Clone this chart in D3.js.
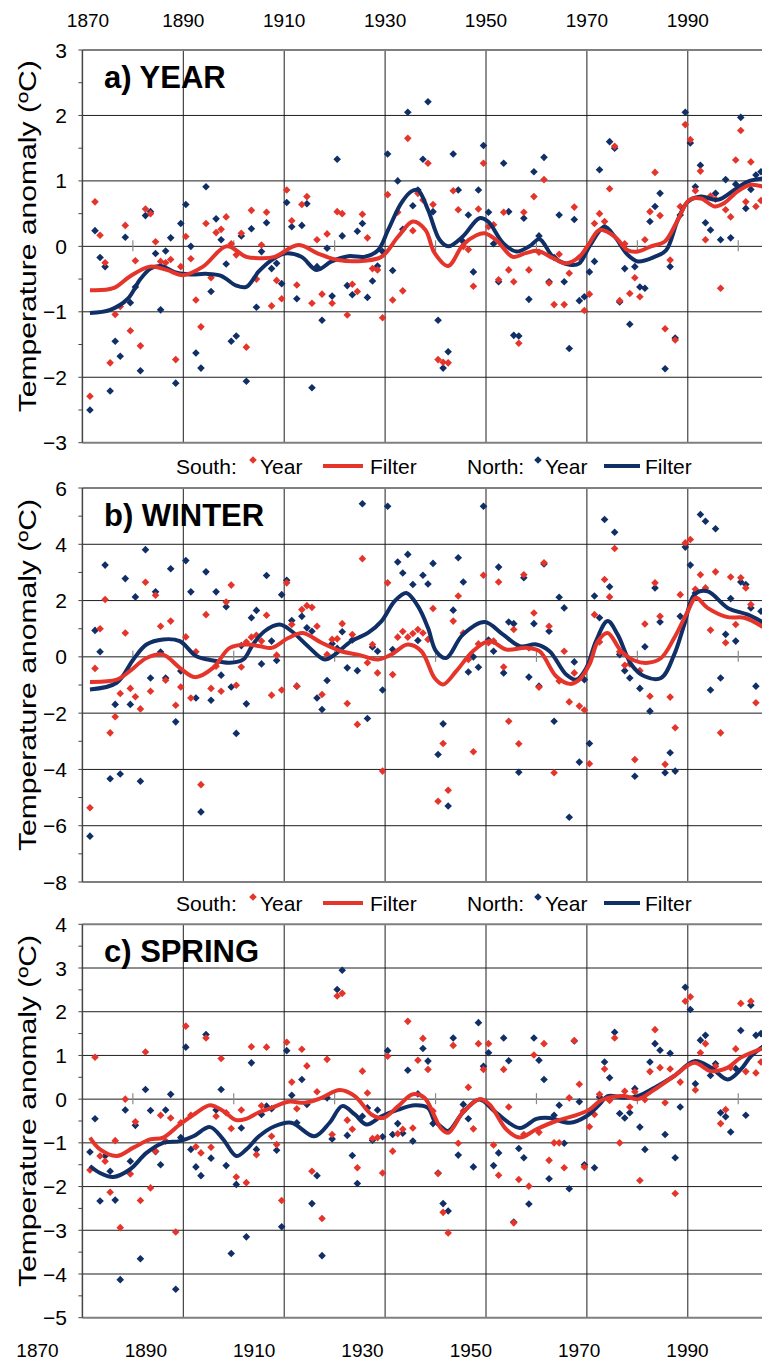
<!DOCTYPE html>
<html>
<head>
<meta charset="utf-8">
<script src="https://cdn.jsdelivr.net/npm/d3@7/dist/d3.min.js"></script>
<style>
  html, body { margin: 0; padding: 0; background: #fff; }
  svg { display: block; font-family: "Liberation Sans", Arial, sans-serif; }
</style>
</head>
<body>
<svg id="chart" width="762" height="1364"></svg>
<script>
// ---- data: temperature anomalies (ºC), one value per year 1871-2004 ----
const firstYear = 1871;
const lastYear = 2004;

const yearSouth = [-2.29,0.68,0.17,-0.25,-1.78,-1.04,-0.92,0.32,-1.29,-0.22,-1.52,0.57,0.5,0.07,-0.23,-0.25,-0.2,-1.73,-0.31,0.15,
  -0.19,-0.82,-1.23,0.35,-0.48,0.21,0.26,0.45,0.04,-0.13,0.2,-1.54,0.55,-0.5,0.02,0.52,-0.91,-0.52,-0.8,0.86,
  0.39,-0.59,0.64,0.76,-0.87,0.1,-0.73,0.19,-0.87,0.53,0.5,-1.05,-0.58,-0.69,0.49,0.13,-0.34,-0.36,-1.09,0.79,
  -0.82,0.52,-0.68,1.65,0.24,0.81,0.71,1.27,0.64,-1.73,-1.77,-1.78,0.85,0.56,0.0,-0.05,-0.61,0.57,1.27,0.3,
  0.33,-0.51,0.52,-0.36,-0.54,-1.48,0.52,-0.36,0.76,-0.09,1.02,-0.56,-0.89,-0.12,-0.89,-0.41,0.6,-0.17,-0.98,-0.73,
  0.35,0.5,0.38,0.88,1.53,-0.83,0.04,-0.72,-0.48,-0.77,0.1,0.53,1.13,0.47,-1.26,-0.21,-1.43,0.61,1.86,1.63,
  0.85,1.15,0.1,0.77,0.72,-0.64,0.56,0.45,1.32,1.77,0.68,1.29,0.61,0.7];
const yearNorth = [-2.5,0.24,-0.17,-0.31,-2.21,-1.45,-1.68,0.14,-0.86,-0.62,-1.9,0.47,0.53,-0.11,-0.97,-0.07,0.13,-2.09,0.35,0.64,
  0.0,-1.63,-1.86,0.91,-0.69,0.42,0.1,-0.27,-1.45,-1.37,0.16,-2.06,0.27,-0.93,-0.08,0.36,-0.34,-0.26,-0.57,0.67,
  0.3,-0.8,0.32,0.65,-2.16,-0.31,-1.13,-0.03,-0.76,1.33,0.16,-0.6,-0.74,0.23,0.35,-0.78,-0.53,-0.3,-0.08,1.41,
  -0.37,1.0,0.26,2.05,0.62,0.86,1.33,2.21,0.53,-1.13,-1.86,-1.61,1.41,0.86,0.07,0.48,-0.39,0.86,1.54,0.52,
  0.04,-0.54,1.27,0.53,-1.36,-1.37,0.43,-0.81,1.14,0.16,1.36,-0.54,-0.17,0.48,-0.54,-1.56,0.41,-0.83,-0.77,-0.39,
  -0.23,1.17,0.29,1.6,1.5,-0.85,-0.34,-1.19,-0.31,-0.62,-0.64,0.38,0.61,0.81,-1.87,-0.31,-1.4,0.48,2.05,1.58,
  0.91,1.24,0.36,0.25,0.81,0.1,1.02,0.13,0.95,1.97,0.58,0.87,1.09,1.14];

const winterSouth = [-5.36,-0.41,1.0,2.04,-2.7,-2.13,-1.3,0.85,-1.12,-1.42,-1.85,2.65,-1.22,2.19,1.09,-0.83,1.27,-1.72,-1.07,0.71,
  -1.46,0.18,-4.54,1.5,-1.12,-0.33,-1.22,1.95,2.55,-1.01,-0.36,0.53,0.7,0.77,0.56,1.48,-1.36,0.06,-1.18,2.63,
  1.15,-1.04,1.68,1.82,1.76,1.09,-1.34,0.08,0.62,0.64,1.18,-1.66,0.79,-2.4,3.49,-0.21,0.44,-0.57,-4.06,2.63,
  -0.63,0.7,0.9,0.7,0.83,0.97,0.85,0.62,1.72,-5.13,-3.08,-4.74,1.27,2.16,0.85,-0.09,-3.37,0.46,2.9,0.5,
  0.56,2.66,-0.36,-2.29,0.97,-3.09,2.92,0.32,1.56,-1.08,3.34,1.09,-4.12,-0.86,0.2,-1.6,-0.57,-1.75,-1.89,-3.8,
  1.5,0.53,2.75,2.13,3.85,0.18,-0.3,-0.25,-3.65,-0.49,1.17,-1.4,2.63,1.44,-3.82,-1.43,-2.52,2.21,4.05,4.17,
  2.4,2.92,2.45,0.95,3.02,-2.7,0.5,2.84,1.15,2.81,2.45,1.86,-1.63,1.15];
const winterNorth = [-6.37,0.94,0.18,3.26,-4.33,-1.69,-4.16,2.78,-1.69,2.13,-4.42,3.81,-0.75,2.31,0.17,-0.75,3.13,-2.31,-0.5,3.42,
  2.31,-1.46,-5.51,3.02,-1.54,2.31,-0.65,1.78,-1.07,-2.72,0.4,-1.67,1.39,1.65,-0.25,2.89,0.56,-0.13,2.21,2.72,
  1.29,-1.04,1.44,1.03,0.91,-1.46,-1.87,-0.84,0.47,0.3,0.89,-0.39,0.6,-0.49,5.44,-2.19,0.35,0.2,-1.18,5.35,
  0.26,3.37,2.98,3.64,2.57,0.58,2.9,2.59,3.32,-3.47,-2.38,-5.3,1.66,3.52,2.66,-0.54,0.0,-0.37,5.35,0.6,
  0.2,3.19,-0.57,1.24,1.18,-4.1,2.81,-0.72,1.18,-1.04,3.3,0.91,-2.29,2.12,1.74,-5.7,-0.18,-3.74,-0.81,-3.08,
  2.16,1.39,4.88,2.49,4.43,0.08,-0.49,-0.75,-4.24,-1.12,0.36,-1.93,2.45,1.24,-4.12,-3.41,-4.06,1.44,3.9,3.26,
  2.27,5.06,4.82,-1.18,4.55,-0.75,0.8,2.07,0.56,2.66,2.57,1.74,-1.04,1.62];

const springSouth = [-1.62,0.96,-1.3,-1.42,-2.13,-0.95,-2.94,0.0,-1.71,-0.52,-2.32,1.08,-2.03,-1.19,-0.37,-0.96,-0.43,-3.04,-0.54,1.67,
  -0.37,-1.09,-1.23,1.4,-1.1,-0.39,0.93,-0.31,-0.67,-1.78,-0.25,-1.91,1.2,-1.27,-0.15,1.19,-0.85,-1.04,-2.32,1.3,
  0.39,-0.22,1.14,0.76,-1.65,0.17,-2.73,0.91,-0.81,2.36,2.42,-0.48,-0.69,-1.57,0.64,0.14,-0.9,-0.88,-1.69,0.98,
  -1.19,-0.79,-0.69,1.78,-0.66,0.89,1.39,0.68,-0.27,-1.7,-2.59,-3.06,1.23,-1.01,-0.27,0.27,-0.68,1.27,0.68,1.27,
  -1.05,-1.74,0.68,-0.18,-2.83,-1.84,-0.81,-1.99,1.01,-0.76,1.27,-1.4,-1.0,-1.0,-1.57,0.03,1.34,0.34,-1.55,-0.63,
  -0.35,0.11,0.69,-0.03,1.4,-1.0,0.18,-0.18,0.17,-1.86,-0.01,0.63,1.59,0.72,-0.08,0.69,-2.16,0.39,2.24,2.34,
  0.21,1.06,1.27,0.68,0.75,-0.56,-0.24,0.72,1.15,2.19,0.63,2.24,0.6,0.85];
const springNorth = [-1.21,-0.45,-2.33,-1.3,-1.65,-2.31,-4.13,-0.25,-1.42,-0.6,-3.65,0.22,-0.26,-1.2,-1.5,-0.25,0.11,-4.35,-0.88,1.19,
  -1.15,-1.55,-1.75,1.48,-1.35,-0.25,0.22,-1.52,-3.53,-1.95,-0.66,-3.15,0.83,-1.15,-0.35,-0.16,-0.22,-1.17,-2.92,1.11,
  0.09,-0.54,0.45,-0.12,-2.39,-1.75,-3.58,0.03,-0.91,2.51,2.95,-0.83,-1.29,-1.93,-0.39,-0.2,-0.94,-0.25,-0.86,1.11,
  -0.81,-0.56,-0.78,0.66,-0.96,0.12,1.16,0.87,-0.56,-1.69,-2.39,-2.56,1.4,-1.28,-0.12,-0.45,-1.55,1.75,0.75,1.06,
  -1.52,-1.23,1.4,0.88,-2.81,-1.13,-1.34,-2.4,1.4,0.89,0.45,-1.82,-0.37,-0.14,-1.01,-2.05,1.33,-0.06,-1.5,-0.27,
  -1.57,0.05,0.85,0.49,1.53,-0.33,-0.43,-0.31,0.24,-0.64,-1.15,0.85,1.27,1.12,-0.81,1.05,-1.34,-0.18,2.56,2.05,
  0.35,1.35,1.46,0.54,0.81,-0.31,-0.4,-0.75,0.7,1.57,-0.37,2.15,1.46,1.5];

// ---- low-pass filter curves, [year, value] ----
const yearSouthFilter = [[1871,-0.67],[1875.6,-0.64],[1878.9,-0.46],[1882.9,-0.31],[1886.2,-0.36],[1889.5,-0.44],[1893.4,-0.31],
  [1898.1,0.0],[1902,-0.16],[1905,-0.18],[1907.6,-0.16],[1912.3,0.02],[1916.2,-0.11],[1920.2,-0.21],[1925.4,-0.22],[1928.8,-0.16],
  [1932.1,0.15],[1935,0.38],[1937.5,0.25],[1939.3,-0.1],[1942,-0.3],[1944.9,0.02],[1947.6,0.17],[1949.2,0.2],[1951.5,0.1],
  [1954.8,-0.16],[1957.5,-0.1],[1959.8,-0.07],[1962.8,-0.18],[1965.4,-0.26],[1968,-0.16],[1970,0.05],[1972,0.25],[1975,0.15],
  [1977.6,-0.06],[1979.6,-0.08],[1982.2,0.0],[1984.9,0.07],[1987.5,0.4],[1989.8,0.71],[1992.1,0.73],[1994.8,0.61],[1996.7,0.66],
  [1999.4,0.84],[2002,0.94],[2004.5,0.91]];
const yearNorthFilter = [[1871,-1.02],[1875,-0.97],[1878.5,-0.8],[1881,-0.5],[1883,-0.34],[1885,-0.3],[1888,-0.4],[1891,-0.43],
  [1894,-0.42],[1897,-0.45],[1900,-0.6],[1902,-0.62],[1904.5,-0.38],[1907,-0.21],[1909.6,-0.11],[1912.9,-0.16],[1915.9,-0.36],
  [1918.9,-0.23],[1922.2,-0.15],[1925.5,-0.16],[1928.1,-0.06],[1930.1,0.25],[1932.7,0.66],[1934.7,0.84],[1936,0.86],[1938,0.56],
  [1940.3,0.1],[1942,0.0],[1944.9,0.15],[1948.2,0.43],[1949.9,0.38],[1952.9,0.05],[1955.5,-0.08],[1958.1,0.0],[1960.1,0.11],
  [1962.8,-0.16],[1966.1,-0.28],[1968,-0.26],[1970,0.0],[1973,0.3],[1975,0.15],[1977.6,-0.13],[1979.6,-0.23],[1982.9,-0.16],
  [1985.2,-0.06],[1987.5,0.4],[1989.5,0.68],[1992.1,0.76],[1995.4,0.71],[1998.7,0.86],[2001.4,0.99],[2004.5,1.04]];

const winterSouthFilter = [[1871,-0.89],[1876.3,-0.81],[1878.9,-0.51],[1882.2,-0.04],[1885.5,0.08],[1888.8,-0.39],[1891.8,-0.72],
  [1895.4,-0.39],[1898.7,0.32],[1902,0.44],[1904.7,0.38],[1907,0.32],[1910.3,0.67],[1913.2,0.85],[1916.9,0.5],[1920.8,0.2],
  [1924.1,0.08],[1928.1,-0.09],[1930.7,0.08],[1934,0.44],[1936.7,0.2],[1939.3,-0.75],[1941,-0.98],[1943.6,-0.51],[1946.9,0.2],
  [1950.2,0.56],[1953.5,0.26],[1957.5,0.32],[1960.1,0.2],[1963.4,-0.69],[1966.1,-0.96],[1968,-0.81],[1970,-0.27],[1971.7,0.56],
  [1973.6,0.85],[1976.3,0.2],[1978.9,-0.13],[1981.6,-0.21],[1984.2,-0.04],[1986.8,0.67],[1989.5,1.62],[1991.1,2.1],[1993.4,1.74],
  [1997.4,1.41],[2000.7,1.39],[2004.5,1.05]];
const winterNorthFilter = [[1871,-1.16],[1876.3,-0.92],[1879.6,-0.09],[1882.2,0.44],[1885.5,0.62],[1888.8,0.56],[1892.1,0.02],
  [1895.4,-0.13],[1898.7,-0.21],[1901.4,-0.09],[1903.3,0.44],[1905.6,0.91],[1908.6,1.15],[1911,0.91],[1914.2,0.38],[1917.5,-0.09],
  [1919.5,0.08],[1922.8,0.56],[1926.1,0.85],[1928.8,1.27],[1931.4,1.98],[1933.7,2.27],[1936,1.8],[1938,1.03],[1939.6,0.2],
  [1941.6,-0.04],[1944.9,0.79],[1949.2,1.24],[1952.9,0.79],[1956.2,0.38],[1959.5,0.44],[1962.1,0.2],[1965.4,-0.63],[1967.4,-0.81],
  [1969.4,-0.39],[1971.3,0.56],[1973.6,1.27],[1975.6,0.79],[1978.3,-0.27],[1980.9,-0.69],[1984.2,-0.75],[1986.8,0.08],[1988.8,1.15],
  [1990.8,2.21],[1993.4,2.33],[1997.4,1.74],[2001.4,1.5],[2004.5,1.22]];

const springSouthFilter = [[1871,-0.88],[1873,-1.15],[1876.3,-1.3],[1879.6,-1.11],[1882.9,-0.92],[1885.5,-0.88],[1888.8,-0.58],
  [1892.1,-0.31],[1894.8,-0.14],[1897.4,-0.27],[1900,-0.48],[1902,-0.45],[1904.5,-0.3],[1907,-0.2],[1910.3,-0.06],[1913.6,-0.08],
  [1916.9,0.03],[1920.5,0.21],[1923.5,0.07],[1926.8,-0.35],[1929.1,-0.43],[1932.1,-0.16],[1935,0.11],[1937.3,0.03],[1939.3,-0.39],
  [1940.5,-0.66],[1942,-0.77],[1944.9,-0.31],[1948.2,0.0],[1950.2,-0.12],[1953.5,-0.69],[1956.2,-0.88],[1959.5,-0.69],[1963.4,-0.5],
  [1966.7,-0.39],[1970,-0.24],[1972,-0.05],[1973.6,0.03],[1976.9,0.07],[1979.6,0.0],[1982.9,0.22],[1986.8,0.53],[1990.8,0.83],
  [1994.1,0.64],[1997.4,0.72],[2000,0.95],[2004.5,1.17]];
const springNorthFilter = [[1871,-1.53],[1873,-1.69],[1875.6,-1.78],[1878.9,-1.61],[1882.2,-1.23],[1885.5,-1.0],[1888.8,-0.96],
  [1891.5,-0.85],[1894.8,-0.64],[1897.4,-0.92],[1900,-1.3],[1902,-1.15],[1904.5,-0.85],[1907.6,-0.62],[1910.9,-0.54],[1915.5,-0.85],
  [1918.5,-0.54],[1921,-0.16],[1923.5,-0.35],[1925.8,-0.58],[1928.8,-0.39],[1932.1,-0.24],[1935.4,-0.14],[1938,-0.2],[1939.3,-0.5],
  [1940.5,-0.62],[1942,-0.73],[1944.9,-0.31],[1948.2,-0.01],[1951.5,-0.31],[1956.2,-0.66],[1959.5,-0.45],[1962.1,-0.43],
  [1966.1,-0.54],[1969.4,-0.39],[1972,-0.12],[1973.6,0.07],[1976.9,0.03],[1979.6,0.07],[1982.9,0.26],[1986.8,0.53],[1990.8,0.87],
  [1994.1,0.72],[1997.4,0.45],[2000,0.68],[2002,0.98],[2004.5,1.21]];

// ---- axis labels ----
const xTickYears = [1870, 1890, 1910, 1930, 1950, 1970, 1990];
const xMinorYears = [1880, 1900, 1920, 1940, 1960, 1980, 2000];
const panelTitles = ["a) YEAR", "b) WINTER", "c) SPRING"];
const yAxisTitle = "Temperature anomaly (ºC)";
const legendItems = ["South:", "Year", "Filter", "North:", "Year", "Filter"];

// ---- drawing ----
const RED = "#e5352b";
const BLUE = "#102f66";
const years = d3.range(firstYear, lastYear + 1);

const svg = d3.select("#chart");
const W = 762;

// category axis: each year occupies one slot; gridlines sit on slot edges
const x = d3.scaleLinear().domain([1869.5, 2009.5]).range([82.4, 82.4 + 140 * 5.045]);
const plotLeft = x(1869.5);

const panels = [
  { title: panelTitles[0], south: yearSouth, north: yearNorth, sf: yearSouthFilter, nf: yearNorthFilter,
    domain: [-3, 3], major: 1, minor: 0.5, top: 50, bottom: 442.7 },
  { title: panelTitles[1], south: winterSouth, north: winterNorth, sf: winterSouthFilter, nf: winterNorthFilter,
    domain: [-8, 6], major: 2, minor: 1, top: 488, bottom: 882 },
  { title: panelTitles[2], south: springSouth, north: springNorth, sf: springSouthFilter, nf: springNorthFilter,
    domain: [-5, 4], major: 1, minor: 0.5, top: 924.3, bottom: 1317.7 }
];

const diamond = r => `M0,${-r}L${r},0L0,${r}L${-r},0Z`;

panels.forEach((p, i) => {
  const y = d3.scaleLinear().domain(p.domain).range([p.bottom, p.top]);
  const g = svg.append("g");

  // horizontal gridlines
  const majors = d3.range(p.domain[0], p.domain[1] + 1e-9, p.major);
  g.selectAll("line.hgrid").data(majors.slice(1, -1)).join("line")
    .attr("x1", plotLeft).attr("x2", W + 2)
    .attr("y1", d => y(d)).attr("y2", d => y(d))
    .attr("stroke", "#1e1e1e").attr("stroke-width", 1);

  // vertical gridlines at the 20-year labels
  g.selectAll("line.vgrid").data(xTickYears.slice(1)).join("line")
    .attr("x1", d => x(d - 0.5)).attr("x2", d => x(d - 0.5))
    .attr("y1", p.top).attr("y2", p.bottom)
    .attr("stroke", "#1e1e1e").attr("stroke-width", 1);

  // small ticks along the zero line
  g.selectAll("line.ztick").data(xMinorYears).join("line")
    .attr("x1", d => x(d - 0.5)).attr("x2", d => x(d - 0.5))
    .attr("y1", y(0) - 6).attr("y2", y(0) + 5)
    .attr("stroke", "#8a8a8a").attr("stroke-width", 1.2);

  // frame: top & bottom borders, left axis
  g.append("line").attr("x1", plotLeft).attr("x2", W + 2).attr("y1", p.top).attr("y2", p.top)
    .attr("stroke", "#7f7f7f").attr("stroke-width", 2);
  g.append("line").attr("x1", plotLeft).attr("x2", W + 2).attr("y1", p.bottom).attr("y2", p.bottom)
    .attr("stroke", "#7f7f7f").attr("stroke-width", 2);
  g.append("line").attr("x1", plotLeft).attr("x2", plotLeft).attr("y1", p.top).attr("y2", p.bottom)
    .attr("stroke", "#444").attr("stroke-width", 1.5);

  // left axis ticks (major and minor, outward)
  const minors = d3.range(p.domain[0], p.domain[1] + 1e-9, p.minor);
  g.selectAll("line.ytick").data(minors).join("line")
    .attr("x1", plotLeft - 4).attr("x2", plotLeft)
    .attr("y1", d => y(d)).attr("y2", d => y(d))
    .attr("stroke", "#444").attr("stroke-width", 1);

  // y tick labels
  g.selectAll("text.ylab").data(majors).join("text")
    .attr("x", 67).attr("y", d => y(d)).attr("dy", "0.36em")
    .attr("text-anchor", "end").attr("font-size", 21).attr("fill", "#000")
    .text(d => d3.format("d")(d));

  // y axis title
  const cy = (p.top + p.bottom) / 2 - 10;
  g.append("text")
    .attr("transform", `translate(36,${cy}) rotate(-90)`)
    .attr("text-anchor", "middle").attr("font-size", 23.5).attr("fill", "#000")
    .attr("textLength", 352).attr("lengthAdjust", "spacingAndGlyphs")
    .text(yAxisTitle);

  // panel title
  g.append("text").attr("x", 104).attr("y", p.top + 38)
    .attr("font-size", 31).attr("font-weight", "bold").attr("fill", "#000")
    .text(p.title);

  // yearly values
  const pts = years.map((yr, k) => ({ yr, s: p.south[k], n: p.north[k] }));
  g.selectAll("path.np").data(pts).join("path")
    .attr("d", diamond(3.8))
    .attr("transform", d => `translate(${x(d.yr)},${y(d.n)})`)
    .attr("fill", BLUE);
  g.selectAll("path.sp").data(pts).join("path")
    .attr("d", diamond(3.8))
    .attr("transform", d => `translate(${x(d.yr)},${y(d.s)})`)
    .attr("fill", RED);

  // filter curves
  const line = d3.line().x(d => x(d[0])).y(d => y(d[1])).curve(d3.curveCatmullRom.alpha(0.5));
  g.append("path").attr("d", line(p.nf)).attr("fill", "none")
    .attr("stroke", BLUE).attr("stroke-width", 4).attr("stroke-linejoin", "round");
  g.append("path").attr("d", line(p.sf)).attr("fill", "none")
    .attr("stroke", RED).attr("stroke-width", 4).attr("stroke-linejoin", "round");
});

// year labels above the first panel (first one kept inside the page)
svg.selectAll("text.xtop").data(xTickYears).join("text")
  .attr("x", d => Math.max(x(d - 0.5), 88)).attr("y", 20).attr("dy", "0.36em")
  .attr("text-anchor", "middle").attr("font-size", 19).text(d => d);

// year labels under the last panel, evenly spread across the page
const xBottom = d3.scalePoint().domain(xTickYears).range([37.5, 687.5]);
svg.selectAll("text.xbot").data(xTickYears).join("text")
  .attr("x", d => xBottom(d)).attr("y", 1350).attr("dy", "0.36em")
  .attr("text-anchor", "middle").attr("font-size", 19).text(d => d);

// legends between panels
[466, 903].forEach(ly => {
  const lg = svg.append("g").attr("font-size", 21);
  lg.append("text").attr("x", 176).attr("y", ly).attr("dy", "0.36em").text(legendItems[0]);
  lg.append("path").attr("d", diamond(3.8)).attr("transform", `translate(253,${ly - 6})`).attr("fill", RED);
  lg.append("text").attr("x", 260).attr("y", ly).attr("dy", "0.36em").text(legendItems[1]);
  lg.append("line").attr("x1", 323).attr("x2", 363).attr("y1", ly).attr("y2", ly)
    .attr("stroke", RED).attr("stroke-width", 4);
  lg.append("text").attr("x", 370).attr("y", ly).attr("dy", "0.36em").text(legendItems[2]);
  lg.append("text").attr("x", 467).attr("y", ly).attr("dy", "0.36em").text(legendItems[3]);
  lg.append("path").attr("d", diamond(3.8)).attr("transform", `translate(538,${ly - 6})`).attr("fill", BLUE);
  lg.append("text").attr("x", 545).attr("y", ly).attr("dy", "0.36em").text(legendItems[4]);
  lg.append("line").attr("x1", 604).attr("x2", 640).attr("y1", ly).attr("y2", ly)
    .attr("stroke", BLUE).attr("stroke-width", 4);
  lg.append("text").attr("x", 645).attr("y", ly).attr("dy", "0.36em").text(legendItems[5]);
});
</script>
</body>
</html>
